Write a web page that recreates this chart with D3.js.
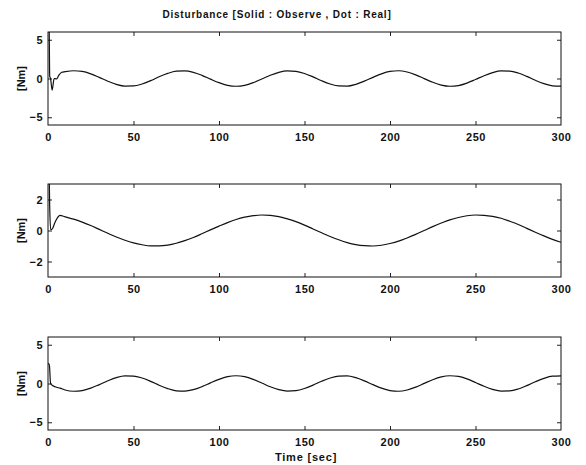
<!DOCTYPE html>
<html>
<head>
<meta charset="utf-8">
<script src="https://cdn.jsdelivr.net/npm/d3@7"></script>
<style>
  body { margin: 0; background: #fff; }
</style>
</head>
<body>
<div id="chart"></div>
<script>
// tick labels
const xTicks = [0, 50, 100, 150, 200, 250, 300];
const yTicks1 = [-5, 0, 5];
const yTicks2 = [-2, 0, 2];
const yTicks3 = [-5, 0, 5];

// axis ranges
const yDomain1 = [-6, 6];
const yDomain2 = [-3, 3];
const yDomain3 = [-6, 6];

// sample times after the start-up transient (sec)
const steadyTime = [10, 15, 20, 25, 30, 35, 40, 45, 50, 55, 60, 65, 70, 75, 80, 85, 90, 95, 100,
  105, 110, 115, 120, 125, 130, 135, 140, 145, 150, 155, 160, 165, 170, 175, 180, 185, 190, 195, 200,
  205, 210, 215, 220, 225, 230, 235, 240, 245, 250, 255, 260, 265, 270, 275, 280, 285, 290, 295, 300];

// panel 1 observed disturbance
const startTime1 = [0, 0.6, 1.0, 1.5, 2.4, 3.6, 5, 6.3, 8];
const startValue1 = [8, 8, 0.3, 0, -1.5, 0, -0.05, 0.4, 0.8];
const observe1 = [0.88, 1.00, 0.91, 0.60, 0.14, -0.35, -0.76, -0.98, -0.96, -0.71, -0.28, 0.22, 0.66, 0.94,
  0.99, 0.80, 0.41, -0.08, -0.54, -0.88, -1.00, -0.88, -0.54, -0.07, 0.42, 0.80, 0.99, 0.93, 0.65, 0.21,
  -0.29, -0.71, -0.96, -0.98, -0.75, -0.34, 0.15, 0.60, 0.91, 1.00, 0.84, 0.47, -0.01, -0.49, -0.85, -1.00,
  -0.91, -0.59, -0.13, 0.36, 0.76, 0.98, 0.96, 0.71, 0.27, -0.23, -0.66, -0.94, -0.99];

// panel 2 observed disturbance
const startTime2 = [0, 0.6, 1.0, 1.6, 2.5, 4, 7];
const startValue2 = [4, 4, 1.5, 0.05, 0.1, 0.5, 0.97];
const observe2 = [0.88, 0.73, 0.54, 0.32, 0.07, -0.18, -0.42, -0.63, -0.80, -0.92, -0.99, -0.99, -0.94, -0.82,
  -0.65, -0.45, -0.21, 0.04, 0.28, 0.51, 0.71, 0.86, 0.96, 1.00, 0.98, 0.89, 0.75, 0.57, 0.35, 0.10,
  -0.15, -0.39, -0.60, -0.78, -0.91, -0.98, -1.00, -0.95, -0.84, -0.69, -0.48, -0.25, 0.00, 0.25, 0.48, 0.69,
  0.84, 0.95, 1.00, 0.98, 0.91, 0.79, 0.60, 0.39, 0.14, -0.11, -0.35, -0.57, -0.76];

// panel 3 observed disturbance
const startTime3 = [0, 0.8, 1.5, 3.4, 5, 7];
const startValue3 = [2.6, 2.4, 0, -0.35, -0.48, -0.6];
const observe3 = [-0.84, -1.00, -0.91, -0.60, -0.14, 0.35, 0.76, 0.98, 0.96, 0.71, 0.28, -0.22, -0.66, -0.94,
  -0.99, -0.80, -0.41, 0.08, 0.54, 0.88, 1.00, 0.88, 0.54, 0.07, -0.42, -0.80, -0.99, -0.93, -0.65, -0.21,
  0.29, 0.71, 0.96, 0.98, 0.75, 0.34, -0.15, -0.60, -0.91, -1.00, -0.84, -0.47, 0.01, 0.49, 0.85, 1.00,
  0.91, 0.59, 0.13, -0.36, -0.76, -0.98, -0.96, -0.71, -0.27, 0.23, 0.66, 0.94, 0.99];

const font = "'Liberation Sans', Arial, sans-serif";

// join the transient and the steady part into [t, value] pairs
const toPoints = (t0, v0, v) =>
  t0.map((t, i) => [t, v0[i]]).concat(steadyTime.map((t, i) => [t, v[i]]));

const panels = [
  { top: 32, domain: yDomain1, ticks: yTicks1, points: toPoints(startTime1, startValue1, observe1) },
  { top: 184, domain: yDomain2, ticks: yTicks2, points: toPoints(startTime2, startValue2, observe2) },
  { top: 337, domain: yDomain3, ticks: yTicks3, points: toPoints(startTime3, startValue3, observe3) }
];
const panelHeight = 93;

const svg = d3.select("#chart")
  .append("svg")
  .attr("width", 586)
  .attr("height", 465)
  .style("background-color", "#fff");

const xScale = d3.scaleLinear()
  .domain([0, 300])
  .range([48, 561]);

panels.forEach((p, i) => {
  const yScale = d3.scaleLinear()
    .domain(p.domain)
    .range([p.top + panelHeight, p.top]);

  const clipId = "clip" + i;
  svg.append("clipPath")
    .attr("id", clipId)
    .append("rect")
    .attr("x", 48)
    .attr("y", p.top)
    .attr("width", 513)
    .attr("height", panelHeight);

  // bottom axis with labels
  const xAxisGroup = svg.append("g")
    .attr("transform", `translate(0,${p.top + panelHeight})`)
    .call(d3.axisBottom(xScale).tickValues(xTicks).tickSize(-4).tickPadding(8).tickFormat(d3.format("d")));

  // top axis, ticks only
  const topGroup = svg.append("g")
    .attr("transform", `translate(0,${p.top})`)
    .call(d3.axisTop(xScale).tickValues(xTicks).tickSize(-4).tickFormat(""));

  // left axis with labels
  const yAxisGroup = svg.append("g")
    .attr("transform", "translate(48,0)")
    .call(d3.axisLeft(yScale).tickValues(p.ticks).tickSize(-4).tickPadding(5).tickFormat(d3.format("d")));

  // right axis, ticks only
  const rightGroup = svg.append("g")
    .attr("transform", "translate(561,0)")
    .call(d3.axisRight(yScale).tickValues(p.ticks).tickSize(-4).tickFormat(""));

  [xAxisGroup, topGroup, yAxisGroup, rightGroup].forEach(g => {
    g.select(".domain").remove();
    g.selectAll(".tick line")
      .attr("stroke", "#222")
      .attr("stroke-width", 1);
  });

  // skip end ticks that sit on the frame
  xAxisGroup.selectAll(".tick line").filter(d => d === 0 || d === 300).remove();
  topGroup.selectAll(".tick line").filter(d => d === 0 || d === 300).remove();

  [xAxisGroup, yAxisGroup].forEach(g => {
    g.selectAll(".tick text")
      .attr("fill", "#111")
      .attr("font-family", font)
      .attr("font-size", 11)
      .attr("font-weight", 700)
      .attr("letter-spacing", 0.5);
  });

  // frame
  svg.append("rect")
    .attr("x", 48)
    .attr("y", p.top)
    .attr("width", 513)
    .attr("height", panelHeight)
    .attr("fill", "none")
    .attr("stroke", "#111")
    .attr("stroke-width", 1);

  // observed disturbance line
  const lineGenerator = d3.line()
    .x(d => xScale(d[0]))
    .y(d => yScale(d[1]))
    .curve(d3.curveMonotoneX);

  svg.append("path")
    .datum(p.points)
    .attr("d", lineGenerator)
    .attr("clip-path", `url(#${clipId})`)
    .attr("fill", "none")
    .attr("stroke", "#111")
    .attr("stroke-width", 1.2)
    .attr("stroke-linejoin", "round");

  // y label
  svg.append("text")
    .text("[Nm]")
    .attr("transform", `translate(25,${p.top + panelHeight / 2}) rotate(-90)`)
    .attr("text-anchor", "middle")
    .attr("fill", "#111")
    .attr("font-family", font)
    .attr("font-size", 11)
    .attr("font-weight", 700);
});

// title
svg.append("text")
  .text("Disturbance [Solid : Observe , Dot : Real]")
  .attr("x", 277)
  .attr("y", 18)
  .attr("text-anchor", "middle")
  .attr("fill", "#111")
  .attr("font-family", font)
  .attr("font-size", 10)
  .attr("font-weight", 700)
  .attr("letter-spacing", 0.8);

// x label
svg.append("text")
  .text("Time [sec]")
  .attr("x", 306)
  .attr("y", 461)
  .attr("text-anchor", "middle")
  .attr("fill", "#111")
  .attr("font-family", font)
  .attr("font-size", 11)
  .attr("font-weight", 700)
  .attr("letter-spacing", 0.8);
</script>
</body>
</html>
